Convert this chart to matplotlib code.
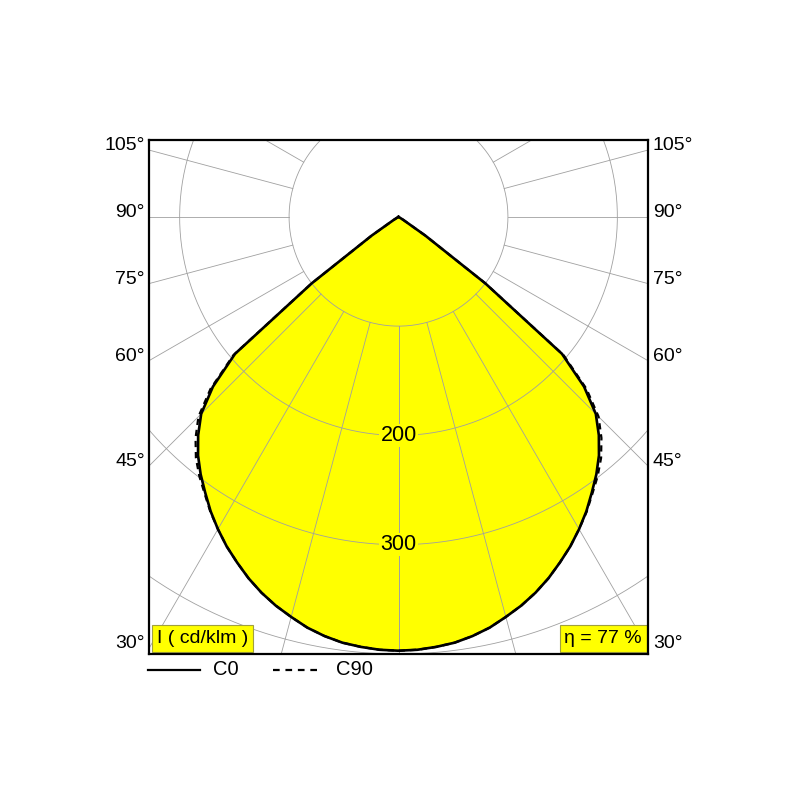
import numpy as np
import matplotlib.pyplot as plt

plt.rcParams['font.family'] = ['Liberation Sans', 'DejaVu Sans']

# luminous intensity in cd/klm, read every 2.5 degrees from nadir
angles = [0, 2.5, 5, 7.5, 10, 12.5, 15, 17.5, 20, 22.5, 25, 27.5, 30, 32.5, 35,
          37.5, 40, 42.5, 45, 47.5, 50, 52.5, 55, 57.5, 60, 70, 80, 90]
c0 = [397, 396.5, 395, 393, 389.5, 385, 379, 373, 366, 358, 349, 340, 330, 319.5, 308,
      297, 285, 271, 255, 230, 195, 100, 30, 5, 0, 0, 0, 0]
c90 = [397, 396.5, 395, 393, 389.5, 385, 379, 373, 366, 358, 349, 340, 330, 320, 309,
       299, 288, 274.5, 258.5, 233, 197, 100, 30, 5, 0, 0, 0, 0]

circle_values = [100, 200, 300, 400]
circle_labels = [200, 300]
angle_ticks = [30, 45, 60, 75, 90, 105]
unit_label = "I ( cd/klm )"
eta_label = "η = 77 %"

yellow = '#ffff00'
grid_col = '#a0a0a0'


def curve_xy(ang, vals):
    # full curve: left half (C180 / C270) and right half (C0 / C90)
    t = np.radians(np.array(ang, dtype=float))
    r = np.array(vals, dtype=float)
    x = np.concatenate([-(r * np.sin(t))[::-1], (r * np.sin(t))[1:]])
    y = np.concatenate([-(r * np.cos(t))[::-1], -(r * np.cos(t))[1:]])
    return x, y


fig = plt.figure(figsize=(8, 8), dpi=100)
ax = fig.add_axes([149 / 800, 146 / 800, 499 / 800, 514 / 800])
xmax = 228
ax.set_xlim(-xmax, xmax)
ax.set_ylim(-400, 70.3)

x0, y0 = curve_xy(angles, c0)
x90, y90 = curve_xy(angles, c90)
ax.fill(x0, y0, color=yellow, zorder=1, lw=0)

# grid: circles and radial lines starting at the first circle
th = np.linspace(0, 2 * np.pi, 500)
for r in circle_values:
    ax.plot(r * np.sin(th), r * np.cos(th), color=grid_col, lw=0.6, zorder=2)
for a in range(0, 181, 15):
    t = np.radians(a)
    for side in (-1, 1):
        ax.plot([side * 100 * np.sin(t), side * 700 * np.sin(t)],
                [-100 * np.cos(t), -700 * np.cos(t)],
                color=grid_col, lw=0.6, zorder=2)

ax.plot(x90, y90, color='black', lw=1.6, ls=(0, (2.8, 2.2)), zorder=3)
ax.plot(x0, y0, color='black', lw=1.9, zorder=4, solid_joinstyle='round')

for v in circle_labels:
    ax.text(0, -v, str(v), ha='center', va='center', fontsize=15.5, zorder=5,
            bbox=dict(boxstyle='square,pad=0.05', fc=yellow, ec='none'))

for a in angle_ticks:
    y = -xmax / np.tan(np.radians(a))
    ax.text(-xmax - 3.7, y, f'{a}°', ha='right', va='baseline', fontsize=14, clip_on=False)
    ax.text(xmax + 4.5, y, f'{a}°', ha='left', va='baseline', fontsize=14, clip_on=False)

ax.text(0.016, 0.0136, unit_label, transform=ax.transAxes, ha='left', va='bottom',
        fontsize=14, zorder=6,
        bbox=dict(boxstyle='square,pad=0.25', fc=yellow, ec='#a0a040', lw=0.8))
ax.text(0.988, 0.0136, eta_label, transform=ax.transAxes, ha='right', va='bottom',
        fontsize=14, zorder=6,
        bbox=dict(boxstyle='square,pad=0.25', fc=yellow, ec='#a0a040', lw=0.8))

# legend below the frame
ax.plot([-0.002, 0.102], [-0.031, -0.031], transform=ax.transAxes, color='black',
        lw=1.6, clip_on=False)
ax.text(0.128, -0.031, 'C0', transform=ax.transAxes, ha='left', va='center', fontsize=14.5)
ax.plot([0.248, 0.337], [-0.031, -0.031], transform=ax.transAxes, color='black',
        lw=1.6, ls=(0, (3.0, 2.6)), clip_on=False)
ax.text(0.375, -0.031, 'C90', transform=ax.transAxes, ha='left', va='center', fontsize=14.5)

ax.set_xticks([])
ax.set_yticks([])
for s in ax.spines.values():
    s.set_linewidth(1.6)
    s.set_zorder(7)

fig.savefig('out.png', dpi=100)
